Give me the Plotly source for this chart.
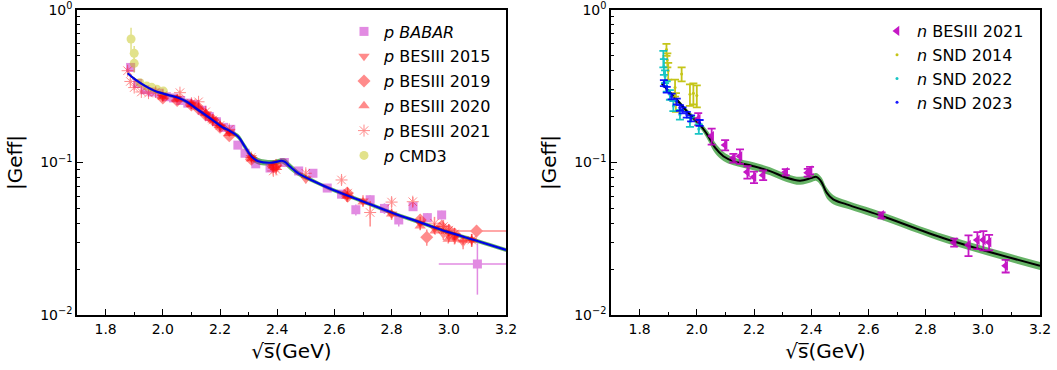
import plotly.graph_objects as go

W, H = 1057, 370

# ---------------- Left panel: proton data ----------------
p_babar_x = [1.8875, 1.9125, 1.9375, 1.9625, 1.9875, 2.0125, 2.0375, 2.0625, 2.0875, 2.1125, 2.1375,
             2.1625, 2.1875, 2.2125, 2.2375, 2.2625, 2.2875, 2.325, 2.375, 2.425, 2.475, 2.525, 2.575,
             2.625, 2.675, 2.725, 2.775, 2.825, 2.875, 2.925, 2.975, 3.1]
p_babar_y = [0.42, 0.33, 0.30, 0.29, 0.285, 0.27, 0.265, 0.255, 0.245, 0.24, 0.22,
             0.20, 0.185, 0.17, 0.165, 0.13, 0.115, 0.098, 0.092, 0.10, 0.088, 0.085, 0.068,
             0.062, 0.049, 0.057, 0.050, 0.042, 0.0513, 0.0435, 0.0453, 0.0216]
p_babar_ey = [0.02, 0.012, 0.01, 0.009, 0.008, 0.008, 0.008, 0.008, 0.008, 0.008, 0.007,
              0.007, 0.006, 0.006, 0.006, 0.006, 0.005, 0.005, 0.005, 0.005, 0.004, 0.004, 0.004,
              0.004, 0.004, 0.004, 0.004, 0.004, 0.003, 0.003, 0.003, 0.008]
p_babar_ex = [0] * 31 + [0.135]

p_b15_x = [2.0, 2.05, 2.1, 2.15, 2.175, 2.2, 2.2324, 2.3094, 2.3864, 2.396, 2.5, 2.6444, 2.7, 2.8,
           2.9, 2.95, 2.981, 3.0, 3.02, 3.05, 3.08]
p_b15_y = [0.27, 0.265, 0.24, 0.205, 0.19, 0.172, 0.158, 0.108, 0.094, 0.092, 0.078, 0.060, 0.056,
           0.046, 0.040, 0.037, 0.034, 0.033, 0.032, 0.030, 0.031]
p_b15_ey = [0.01, 0.01, 0.01, 0.008, 0.008, 0.007, 0.007, 0.006, 0.006, 0.006, 0.005, 0.005, 0.005,
            0.004, 0.004, 0.003, 0.003, 0.003, 0.003, 0.003, 0.003]

p_b19_x = [2.0, 2.05, 2.1, 2.125, 2.15, 2.175, 2.2, 2.2324, 2.3094, 2.3864, 2.396, 2.6444, 2.6464,
           2.9, 2.923, 2.975, 3.0, 3.02, 3.097]
p_b19_y = [0.265, 0.255, 0.238, 0.225, 0.205, 0.19, 0.17, 0.15, 0.105, 0.094, 0.096, 0.063, 0.060,
           0.042, 0.0324, 0.038, 0.036, 0.034, 0.0356]
p_b19_ey = [0.01, 0.01, 0.009, 0.008, 0.008, 0.007, 0.007, 0.006, 0.005, 0.005, 0.005, 0.004, 0.004,
            0.004, 0.004, 0.004, 0.003, 0.003, 0.003]
p_b19_ex = [0] * 18 + [0.12]

p_b20_x = [2.0, 2.05, 2.1, 2.125, 2.15, 2.175, 2.2, 2.2324, 2.3094, 2.3864, 2.396, 2.6444, 2.7,
           2.8, 2.9, 2.952, 2.998, 3.022, 3.05, 3.08]
p_b20_y = [0.27, 0.26, 0.24, 0.23, 0.21, 0.19, 0.175, 0.155, 0.106, 0.095, 0.093, 0.060, 0.055,
           0.046, 0.0384, 0.0356, 0.0314, 0.0314, 0.031, 0.0309]
p_b20_ey = [0.008, 0.008, 0.007, 0.007, 0.006, 0.006, 0.005, 0.005, 0.004, 0.004, 0.004, 0.003, 0.003,
            0.003, 0.002, 0.002, 0.002, 0.002, 0.002, 0.002]

p_b21_x = [1.877, 1.8865, 1.9, 1.925, 1.95, 1.975, 2.0, 2.06, 2.1, 2.125, 2.15, 2.175, 2.2, 2.2324,
           2.3094, 2.3864, 2.396, 2.5, 2.625, 2.6464, 2.725, 2.8, 2.874, 2.95, 2.981, 3.0, 3.02, 3.08]
p_b21_y = [0.40, 0.34, 0.31, 0.29, 0.285, 0.29, 0.275, 0.287, 0.245, 0.25, 0.215, 0.19, 0.175, 0.165,
           0.108, 0.088, 0.090, 0.085, 0.0768, 0.063, 0.047, 0.055, 0.0553, 0.040, 0.038, 0.036, 0.034, 0.031]
p_b21_ey = [0.02, 0.015, 0.012, 0.01, 0.01, 0.01, 0.01, 0.01, 0.009, 0.009, 0.008, 0.008, 0.007, 0.007,
            0.006, 0.006, 0.006, 0.005, 0.005, 0.005, 0.009, 0.004, 0.004, 0.004, 0.004, 0.003, 0.003, 0.003]

p_cmd3_x = [1.889, 1.900, 1.900, 1.920, 1.944, 1.961, 1.979, 2.002]
p_cmd3_y = [0.645, 0.52, 0.447, 0.334, 0.317, 0.311, 0.302, 0.294]
p_cmd3_ey = [0.12, 0.06, 0.06, 0.01, 0.008, 0.008, 0.008, 0.008]

p_fit_x = [1.877, 1.903, 1.938, 1.973, 2.019, 2.054, 2.084, 2.124, 2.171, 2.212, 2.229, 2.264, 2.287,
           2.311, 2.334, 2.381, 2.416, 2.427, 2.445, 2.474, 2.532, 2.596, 2.70, 2.806, 2.90, 2.993,
           3.10, 3.20]
p_fit_y = [0.385, 0.351, 0.318, 0.294, 0.277, 0.266, 0.250, 0.221, 0.192, 0.169, 0.163, 0.1476, 0.127,
           0.109, 0.102, 0.0997, 0.1027, 0.101, 0.094, 0.0849, 0.0748, 0.066, 0.0555, 0.0465, 0.0405,
           0.0352, 0.0306, 0.0267]
p_band_rel = [0.02, 0.02, 0.02, 0.02, 0.025, 0.025, 0.03, 0.03, 0.03, 0.03, 0.03, 0.04, 0.05,
              0.05, 0.05, 0.04, 0.04, 0.05, 0.05, 0.04, 0.03, 0.03, 0.03, 0.03, 0.03, 0.03, 0.03, 0.03]

# ---------------- Right panel: neutron data ----------------
n_b21_x = [2.005, 2.052, 2.099, 2.128, 2.151, 2.177, 2.20, 2.232, 2.311, 2.388, 2.396, 2.646,
           2.90, 2.95, 2.981, 3.002, 3.022, 3.08]
n_b21_y = [0.193, 0.149, 0.130, 0.107, 0.110, 0.0865, 0.0802, 0.0826, 0.0865, 0.0857, 0.0887, 0.0451,
           0.0299, 0.0288, 0.031, 0.031, 0.030, 0.021]
n_b21_ey = [0.018, 0.018, 0.01, 0.007, 0.012, 0.008, 0.007, 0.006, 0.004, 0.005, 0.005, 0.002,
            0.0018, 0.0045, 0.004, 0.0045, 0.0035, 0.002]

n_snd14_x = [1.894, 1.897, 1.90, 1.924, 1.927, 1.947, 1.976, 1.988, 2.0]
n_snd14_y = [0.55, 0.47, 0.40, 0.31, 0.25, 0.38, 0.28, 0.285, 0.275]
n_snd14_ey = [0.05, 0.05, 0.05, 0.04, 0.035, 0.04, 0.045, 0.045, 0.045]

n_snd22_x = [1.883, 1.885, 1.889, 1.895, 1.906, 1.918, 1.941, 1.976, 2.007]
n_snd22_y = [0.48, 0.426, 0.367, 0.316, 0.278, 0.235, 0.206, 0.184, 0.166]
n_snd22_ey = [0.06, 0.05, 0.035, 0.025, 0.02, 0.018, 0.015, 0.013, 0.012]

n_snd23_x = [1.885, 1.895, 1.912, 1.93, 1.941, 1.95, 1.965, 1.98, 2.01]
n_snd23_y = [0.332, 0.30, 0.271, 0.251, 0.228, 0.22, 0.206, 0.195, 0.182]
n_snd23_ey = [0.015, 0.013, 0.012, 0.011, 0.01, 0.01, 0.009, 0.009, 0.008]

n_fit_x = [1.877, 1.93, 1.976, 2.011, 2.04, 2.064, 2.093, 2.128, 2.198, 2.256, 2.314, 2.361, 2.40,
           2.418, 2.435, 2.454, 2.477, 2.524, 2.64, 2.874, 3.2]
n_fit_y = [0.330, 0.258, 0.206, 0.177, 0.149, 0.125, 0.110, 0.102, 0.0946, 0.0878, 0.0794, 0.0760,
           0.0790, 0.0805, 0.075, 0.0634, 0.0573, 0.0531, 0.0451, 0.0314, 0.021]
n_band_rel = [0.02, 0.03, 0.04, 0.05, 0.07, 0.08, 0.07, 0.06, 0.06, 0.06, 0.06, 0.06,
              0.06, 0.06, 0.07, 0.08, 0.07, 0.06, 0.06, 0.06, 0.06]

FONT = "DejaVu Sans"
RED = "rgba(255,0,0,1)"
MAG = "rgba(191,0,191,1)"
YEL = "rgba(191,191,0,1)"
CYA = "rgba(0,191,191,1)"
BLU = "rgba(0,0,255,1)"
GREEN_BAND = "rgba(0,128,0,0.6)"

fig = go.Figure()


def band(xs, ys, rel, xa, ya):
    lo = [y * (1 - r) for y, r in zip(ys, rel)]
    hi = [y * (1 + r) for y, r in zip(ys, rel)]
    fig.add_trace(go.Scatter(x=xs, y=lo, mode="lines", line=dict(width=0, shape="spline"),
                             showlegend=False, xaxis=xa, yaxis=ya, hoverinfo="skip"))
    fig.add_trace(go.Scatter(x=xs, y=hi, mode="lines", line=dict(width=0, shape="spline"),
                             fill="tonexty", fillcolor=GREEN_BAND, showlegend=False,
                             xaxis=xa, yaxis=ya, hoverinfo="skip"))


def pdata(name, xs, ys, ey, color, symbol, size, ex=None, group=None):
    err_x = dict(type="data", array=ex, color=color, thickness=1.5, width=0, visible=True) if ex else None
    fig.add_trace(go.Scatter(
        x=xs, y=ys, mode="markers", name=name, opacity=0.45,
        marker=dict(color=color, symbol=symbol, size=size, line=dict(width=0)),
        error_y=dict(type="data", array=ey, color=color, thickness=1.5, width=0),
        error_x=err_x, xaxis="x", yaxis="y", legend="legend", legendgroup=group))


band(p_fit_x, p_fit_y, p_band_rel, "x", "y")

pdata("<i>p BABAR</i>", p_babar_x, p_babar_y, p_babar_ey, MAG, "square", 9, p_babar_ex, "g1")
pdata("<i>p</i> BESIII 2015", p_b15_x, p_b15_y, p_b15_ey, RED, "triangle-down", 10, None, "g2")
pdata("<i>p</i> BESIII 2019", p_b19_x, p_b19_y, p_b19_ey, RED, "diamond", 10, p_b19_ex, "g3")
pdata("<i>p</i> BESIII 2020", p_b20_x, p_b20_y, p_b20_ey, RED, "triangle-up", 10, None, "g4")
pdata("<i>p</i> BESIII 2021", p_b21_x, p_b21_y, p_b21_ey, RED, "asterisk-open", 10, None, "g5")
pdata("<i>p</i> CMD3", p_cmd3_x, p_cmd3_y, p_cmd3_ey, YEL, "circle", 9, None, "g6")

fig.add_trace(go.Scatter(x=p_fit_x, y=p_fit_y, mode="lines",
                         line=dict(color="rgb(0,0,230)", width=2.2, shape="spline"),
                         showlegend=False, xaxis="x", yaxis="y"))

band(n_fit_x, n_fit_y, n_band_rel, "x2", "y2")
fig.add_trace(go.Scatter(x=n_fit_x, y=n_fit_y, mode="lines",
                         line=dict(color="black", width=2, shape="spline"),
                         showlegend=False, xaxis="x2", yaxis="y2"))


def ndata(name, xs, ys, ey, color, symbol, size, group):
    fig.add_trace(go.Scatter(
        x=xs, y=ys, mode="markers", name=name, opacity=0.9,
        marker=dict(color=color, symbol=symbol, size=size, line=dict(width=0)),
        error_y=dict(type="data", array=ey, color=color, thickness=1.8, width=4),
        xaxis="x2", yaxis="y2", legend="legend2", legendgroup=group))


ndata("<i>n</i> BESIII 2021", n_b21_x, n_b21_y, n_b21_ey, MAG, "triangle-left", 9, "h1")
ndata("<i>n</i> SND 2014", n_snd14_x, n_snd14_y, n_snd14_ey, YEL, "circle", 3, "h2")
ndata("<i>n</i> SND 2022", n_snd22_x, n_snd22_y, n_snd22_ey, CYA, "circle", 3, "h3")
ndata("<i>n</i> SND 2023", n_snd23_x, n_snd23_y, n_snd23_ey, BLU, "circle", 3, "h4")

x_ticks = [1.8, 2.0, 2.2, 2.4, 2.6, 2.8, 3.0, 3.2]
x_minor = [1.7, 1.9, 2.1, 2.3, 2.5, 2.7, 2.9, 3.1]
y_ticks = [0.01, 0.1, 1]
y_ticktext = ["10<sup>−2</sup>", "10<sup>−1</sup>", "10<sup>0</sup>"]
y_minor = [m * d for d in (0.01, 0.1) for m in range(2, 10)]


def px(v):
    return v / W


def py(v):
    return 1 - v / H


ydom = [py(315), py(10)]


def xaxis_cfg(dom, anchor):
    return dict(domain=dom, range=[1.7, 3.2], tickvals=x_ticks,
                ticktext=[f"{v:.1f}" for v in x_ticks], anchor=anchor,
                ticks="inside", ticklen=6, tickwidth=1, tickcolor="black",
                minor=dict(tickvals=x_minor, ticks="inside", ticklen=3, tickcolor="black"),
                showline=True, linecolor="black", linewidth=1.5, mirror=True,
                showgrid=False, zeroline=False,
                tickfont=dict(family=FONT, size=14, color="black"),
                title=dict(text="√s̅(GeV)", font=dict(family=FONT, size=20, color="black"), standoff=8),
                automargin=False)


def yaxis_cfg(anchor):
    return dict(domain=ydom, type="log", range=[-2, 0], tickvals=y_ticks, ticktext=y_ticktext,
                ticks="inside", ticklen=6, tickwidth=1, tickcolor="black",
                minor=dict(tickvals=y_minor, ticks="inside", ticklen=3, tickcolor="black"),
                showline=True, linecolor="black", linewidth=1.5, mirror=True,
                showgrid=False, zeroline=False, anchor=anchor,
                tickfont=dict(family=FONT, size=14, color="black"),
                title=dict(text="|Geff|", font=dict(family=FONT, size=20, color="black"), standoff=12),
                automargin=False)


fig.update_layout(
    width=W, height=H,
    margin=dict(l=0, r=0, t=0, b=0),
    paper_bgcolor="white", plot_bgcolor="white",
    font=dict(family=FONT, size=14, color="black"),
    xaxis=xaxis_cfg([px(77), px(506)], "y"),
    yaxis=yaxis_cfg("x"),
    xaxis2=xaxis_cfg([px(611), px(1040)], "y2"),
    yaxis2=yaxis_cfg("x2"),
    legend=dict(x=px(344), y=py(14.5), xanchor="left", yanchor="top",
                bgcolor="rgba(0,0,0,0)", borderwidth=0, tracegroupgap=1,
                font=dict(family=FONT, size=16, color="black")),
    legend2=dict(x=px(877), y=py(14), xanchor="left", yanchor="top",
                 bgcolor="rgba(0,0,0,0)", borderwidth=0, tracegroupgap=0,
                 font=dict(family=FONT, size=16, color="black")),
    showlegend=True,
)

fig.write_html("out.html", config={"displayModeBar": False},
               post_script="document.body.style.margin='0';document.body.style.overflow='hidden';")
